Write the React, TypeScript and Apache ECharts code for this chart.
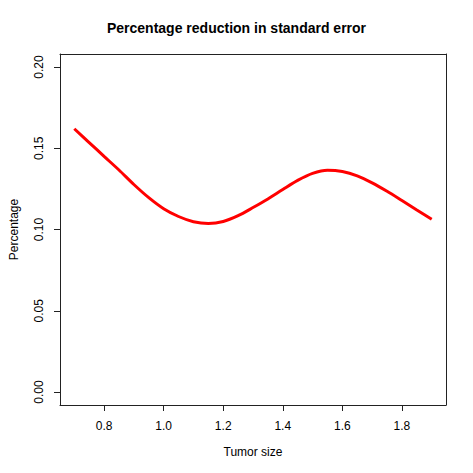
import React, { useEffect, useRef } from "react";
import * as echarts from "echarts";

const tumorSize = [0.7, 0.75, 0.8, 0.85, 0.9, 0.95, 1.0, 1.05, 1.1, 1.15, 1.2, 1.25, 1.3, 1.35, 1.4, 1.45, 1.5, 1.55, 1.6, 1.65, 1.7, 1.75, 1.8, 1.85, 1.9];
const reduction = [0.162, 0.1535, 0.145, 0.1366, 0.1277, 0.1196, 0.1128, 0.108, 0.1048, 0.1037, 0.1049, 0.1085, 0.1135, 0.1188, 0.1246, 0.1302, 0.1345, 0.1365, 0.1357, 0.133, 0.1287, 0.1235, 0.1178, 0.112, 0.1063];
const xTicks = [0.8, 1.0, 1.2, 1.4, 1.6, 1.8];
const yTicks = [0, 0.05, 0.1, 0.15, 0.2];

const FONT = "Liberation Sans, Arial, Helvetica, sans-serif";
const LINE = { color: "#222", width: 1 };

export default function App() {
  const ref = useRef<HTMLDivElement>(null);
  useEffect(() => {
    if (!ref.current) return;
    const chart = echarts.init(ref.current, null, { renderer: "svg" });
    chart.setOption({
      animation: false,
      backgroundColor: "#fff",
      title: {
        text: "Percentage reduction in standard error",
        left: "center",
        top: 16,
        textStyle: { fontFamily: FONT, fontSize: 14, fontWeight: "bold", color: "#000" },
      },
      grid: {
        left: 54,
        right: 27,
        top: 54,
        bottom: 68,
        show: false,
      },
      xAxis: [
        {
          type: "value",
          min: 0.652,
          max: 1.948,
          position: "bottom",
          name: "Tumor size",
          nameLocation: "middle",
          nameGap: 41,
          nameTextStyle: { fontFamily: FONT, fontSize: 12, color: "#000" },
          axisLine: { show: true, onZero: false, lineStyle: LINE },
          splitLine: { show: false },
          axisTick: { show: true, inside: false, length: 6, customValues: xTicks, lineStyle: LINE },
          axisLabel: {
            customValues: xTicks,
            margin: 15,
            fontFamily: FONT,
            fontSize: 12,
            color: "#000",
            formatter: (v: number) => v.toFixed(1),
          },
        },
        {
          type: "value",
          min: 0.652,
          max: 1.948,
          position: "top",
          axisLine: { show: true, onZero: false, lineStyle: LINE },
          splitLine: { show: false },
          axisTick: { show: false },
          axisLabel: { show: false },
        },
      ],
      yAxis: [
        {
          type: "value",
          min: -0.008,
          max: 0.208,
          position: "left",
          name: "Percentage",
          nameLocation: "middle",
          nameRotate: 90,
          nameGap: 40,
          nameTextStyle: { fontFamily: FONT, fontSize: 12, color: "#000" },
          axisLine: { show: true, onZero: false, lineStyle: LINE },
          splitLine: { show: false },
          axisTick: { show: true, length: 6, customValues: yTicks, lineStyle: LINE },
          axisLabel: {
            customValues: yTicks,
            rotate: 90,
            margin: 15,
            fontFamily: FONT,
            fontSize: 12,
            color: "#000",
            formatter: (v: number) => v.toFixed(2),
          },
        },
        {
          type: "value",
          min: -0.008,
          max: 0.208,
          position: "right",
          axisLine: { show: true, onZero: false, lineStyle: LINE },
          splitLine: { show: false },
          axisTick: { show: false },
          axisLabel: { show: false },
        },
      ],
      series: [
        {
          type: "line",
          xAxisIndex: 0,
          yAxisIndex: 0,
          data: tumorSize.map((x, i) => [x, reduction[i]]),
          smooth: 0.3,
          showSymbol: false,
          lineStyle: { color: "#ff0000", width: 3 },
        },
      ],
    });
    return () => chart.dispose();
  }, []);
  return <div ref={ref} style={{ position: "fixed", left: 0, top: 0, width: 473, height: 473 }} />;
}
